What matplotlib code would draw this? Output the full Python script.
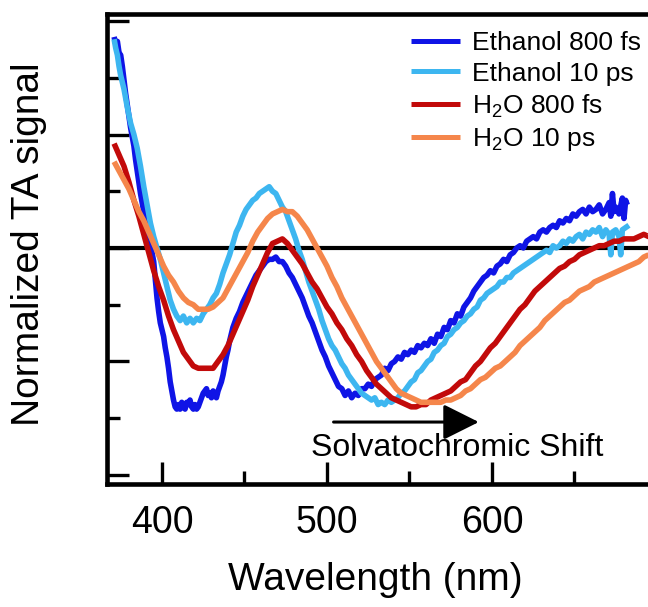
import matplotlib
matplotlib.use("Agg")
import matplotlib.pyplot as plt
from matplotlib.ticker import MultipleLocator, NullFormatter
from matplotlib.patches import ArrowStyle

plt.rcParams['font.family'] = ['Liberation Sans', 'DejaVu Sans']
plt.rcParams['mathtext.fontset'] = 'custom'
plt.rcParams['mathtext.rm'] = 'Liberation Sans'

# ---------------- data ----------------
eth800_wl = [371, 372, 373, 374, 375, 376, 377, 378, 379, 380, 381, 382, 383, 384, 385, 386, 387, 388, 389, 390,
             391, 392, 393, 394, 395, 396, 397, 398, 399, 400, 401, 402, 403, 404, 405, 406, 407, 408, 409, 410,
             411, 412, 413, 414, 415, 416, 417, 418, 419, 420, 421, 422, 423, 424, 425, 426, 427, 428, 429, 430,
             431, 432, 433, 434, 435, 436, 437, 438, 439, 440, 441, 442, 443, 445, 447, 449, 451, 453, 455, 457,
             459, 461, 463, 465, 467, 469, 471, 473, 475, 477, 479, 481, 483, 485, 487, 489, 491, 493, 495, 497,
             499, 501, 503, 505, 507, 509, 511, 513, 515, 517, 519, 521, 523, 525, 527, 529, 531, 533, 535, 537,
             539, 541, 543, 545, 547, 549, 551, 553, 555, 557, 559, 561, 563, 565, 567, 569, 571, 573, 575, 577,
             579, 581, 583, 585, 587, 589, 591, 593, 595, 597, 599, 601, 603, 605, 607, 609, 611, 613, 615, 617,
             619, 621, 623, 625, 627, 629, 631, 633, 635, 637, 639, 641, 643, 645, 647, 649, 651, 653, 655, 657,
             659, 661, 663, 665, 667, 669, 671, 672, 673, 674, 675, 677, 679, 680, 681, 682]
eth800_val = [0.93, 0.90, 0.91, 0.86, 0.85, 0.80, 0.74, 0.68, 0.63, 0.58, 0.53, 0.49, 0.45, 0.39, 0.34, 0.29, 0.24, 0.20, 0.16, 0.12,
              0.09, 0.05, 0.02, -0.02, -0.06, -0.14, -0.22, -0.28, -0.33, -0.36, -0.39, -0.44, -0.48, -0.53, -0.59, -0.63, -0.67, -0.70, -0.71, -0.69,
              -0.71, -0.68, -0.70, -0.71, -0.68, -0.69, -0.67, -0.70, -0.71, -0.69, -0.71, -0.70, -0.68, -0.66, -0.64, -0.63, -0.62, -0.65, -0.64, -0.66,
              -0.63, -0.65, -0.66, -0.63, -0.61, -0.59, -0.56, -0.52, -0.48, -0.45, -0.41, -0.38, -0.35, -0.31, -0.28, -0.24, -0.21, -0.18, -0.15, -0.12,
              -0.10, -0.08, -0.06, -0.05, -0.05, -0.04, -0.06, -0.06, -0.08, -0.11, -0.13, -0.16, -0.19, -0.22, -0.26, -0.30, -0.33, -0.37, -0.41, -0.45,
              -0.48, -0.52, -0.55, -0.58, -0.61, -0.62, -0.65, -0.63, -0.66, -0.64, -0.65, -0.62, -0.62, -0.60, -0.61, -0.58, -0.57, -0.56, -0.53, -0.54,
              -0.51, -0.50, -0.48, -0.49, -0.46, -0.47, -0.45, -0.46, -0.43, -0.44, -0.42, -0.43, -0.40, -0.42, -0.38, -0.39, -0.35, -0.36, -0.32, -0.33,
              -0.29, -0.30, -0.26, -0.24, -0.22, -0.19, -0.17, -0.15, -0.13, -0.12, -0.10, -0.11, -0.08, -0.07, -0.05, -0.06, -0.03, -0.02, 0.00, 0.01,
              0.00, 0.03, 0.04, 0.05, 0.04, 0.07, 0.08, 0.07, 0.09, 0.10, 0.09, 0.12, 0.11, 0.13, 0.12, 0.15, 0.14, 0.16, 0.17, 0.15,
              0.18, 0.16, 0.17, 0.19, 0.15, 0.17, 0.20, 0.14, 0.24, 0.16, 0.18, 0.15, 0.22, 0.13, 0.21, 0.19]

eth10_wl = [371, 372, 373, 374, 375, 377, 379, 381, 383, 385, 387, 389, 391, 393, 395, 397, 399, 401, 403, 405,
            407, 409, 411, 413, 415, 417, 419, 421, 423, 425, 427, 429, 431, 433, 435, 437, 439, 441, 443, 445,
            447, 449, 451, 453, 455, 457, 459, 461, 463, 465, 467, 469, 471, 473, 475, 477, 479, 481, 483, 485,
            487, 489, 491, 493, 495, 497, 499, 501, 503, 505, 507, 509, 511, 513, 515, 517, 519, 521, 523, 525,
            527, 529, 531, 533, 535, 537, 539, 541, 543, 545, 547, 549, 551, 553, 555, 557, 559, 561, 563, 565,
            567, 569, 571, 573, 575, 577, 579, 581, 583, 585, 587, 589, 591, 593, 595, 597, 599, 601, 603, 605,
            607, 609, 611, 613, 615, 617, 619, 621, 623, 625, 627, 629, 631, 633, 635, 637, 639, 641, 643, 645,
            647, 649, 651, 653, 655, 657, 659, 661, 663, 665, 667, 669, 671, 672, 673, 675, 677, 678, 679, 681, 683]
eth10_val = [0.92, 0.88, 0.85, 0.80, 0.76, 0.70, 0.62, 0.55, 0.50, 0.44, 0.36, 0.27, 0.19, 0.11, 0.05, 0.00, -0.05, -0.11, -0.17, -0.23,
             -0.27, -0.30, -0.32, -0.30, -0.33, -0.31, -0.33, -0.31, -0.32, -0.29, -0.27, -0.25, -0.22, -0.20, -0.16, -0.11, -0.07, -0.03, 0.02, 0.07,
             0.10, 0.14, 0.17, 0.19, 0.21, 0.22, 0.24, 0.25, 0.26, 0.27, 0.25, 0.24, 0.21, 0.18, 0.16, 0.12, 0.08, 0.04, -0.01, -0.05,
             -0.10, -0.15, -0.19, -0.23, -0.27, -0.32, -0.36, -0.40, -0.43, -0.45, -0.48, -0.51, -0.53, -0.56, -0.58, -0.60, -0.62, -0.64, -0.65, -0.66,
             -0.67, -0.66, -0.69, -0.68, -0.69, -0.67, -0.68, -0.67, -0.66, -0.64, -0.63, -0.61, -0.59, -0.58, -0.55, -0.54, -0.52, -0.50, -0.49, -0.46,
             -0.45, -0.43, -0.42, -0.39, -0.38, -0.36, -0.35, -0.33, -0.32, -0.30, -0.29, -0.27, -0.26, -0.23, -0.22, -0.20, -0.19, -0.18, -0.17, -0.15,
             -0.15, -0.13, -0.13, -0.11, -0.10, -0.09, -0.08, -0.07, -0.06, -0.05, -0.04, -0.03, -0.02, -0.01, -0.02, 0.01, 0.00, 0.01, 0.03, 0.02,
             0.04, 0.03, 0.05, 0.06, 0.04, 0.07, 0.06, 0.08, 0.07, 0.09, 0.05, 0.08, 0.06, -0.03, 0.07, 0.08, 0.05, -0.03, 0.08, 0.09, 0.10]

h2o800_wl = [371, 374, 377, 380, 383, 386, 389, 392, 395, 398, 401, 404, 407, 410, 413, 416, 419, 422, 425, 428,
             431, 434, 437, 440, 443, 446, 449, 452, 455, 458, 461, 464, 467, 470, 473, 476, 479, 482, 485, 488,
             491, 494, 497, 500, 503, 506, 509, 512, 515, 518, 521, 524, 527, 530, 533, 536, 539, 542, 545, 548,
             551, 554, 557, 560, 563, 566, 569, 572, 575, 578, 581, 584, 587, 590, 593, 596, 599, 602, 605, 608,
             611, 614, 617, 620, 623, 626, 629, 632, 635, 638, 641, 644, 647, 650, 653, 656, 659, 662, 665, 668,
             671, 674, 677, 680, 683, 686, 689, 692, 695, 697]
h2o800_val = [0.46, 0.41, 0.36, 0.29, 0.21, 0.14, 0.06, -0.02, -0.10, -0.17, -0.23, -0.30, -0.36, -0.41, -0.46, -0.49, -0.52, -0.53, -0.53, -0.53,
              -0.53, -0.50, -0.47, -0.43, -0.38, -0.33, -0.28, -0.23, -0.17, -0.12, -0.07, -0.02, 0.02, 0.03, 0.04, 0.02, -0.01, -0.04, -0.07, -0.11,
              -0.15, -0.18, -0.22, -0.26, -0.29, -0.33, -0.36, -0.40, -0.43, -0.47, -0.50, -0.54, -0.57, -0.60, -0.62, -0.64, -0.66, -0.67, -0.68, -0.69,
              -0.70, -0.70, -0.69, -0.69, -0.67, -0.66, -0.65, -0.64, -0.63, -0.61, -0.59, -0.58, -0.55, -0.52, -0.50, -0.47, -0.44, -0.42, -0.39, -0.36,
              -0.33, -0.30, -0.27, -0.25, -0.22, -0.19, -0.17, -0.15, -0.13, -0.11, -0.09, -0.08, -0.06, -0.05, -0.03, -0.02, -0.01, 0.00, 0.01, 0.01,
              0.02, 0.03, 0.03, 0.04, 0.04, 0.04, 0.05, 0.06, 0.05, 0.06]

h2o10_wl = [371, 374, 377, 380, 383, 386, 389, 392, 395, 398, 401, 404, 407, 410, 413, 416, 419, 422, 425, 428,
            431, 434, 437, 440, 443, 446, 449, 452, 455, 458, 461, 464, 467, 470, 473, 476, 479, 482, 485, 488,
            491, 494, 497, 500, 503, 506, 509, 512, 515, 518, 521, 524, 527, 530, 533, 536, 539, 542, 545, 548,
            551, 554, 557, 560, 563, 566, 569, 572, 575, 578, 581, 584, 587, 590, 593, 596, 599, 602, 605, 608,
            611, 614, 617, 620, 623, 626, 629, 632, 635, 638, 641, 644, 647, 650, 653, 656, 659, 662, 665, 668,
            671, 674, 677, 680, 683, 686, 689, 692, 695, 697]
h2o10_val = [0.38, 0.34, 0.30, 0.26, 0.21, 0.16, 0.12, 0.07, 0.02, -0.03, -0.08, -0.12, -0.15, -0.19, -0.22, -0.24, -0.25, -0.27, -0.27, -0.27,
             -0.26, -0.24, -0.22, -0.18, -0.14, -0.10, -0.06, -0.02, 0.03, 0.07, 0.10, 0.13, 0.15, 0.16, 0.17, 0.16, 0.16, 0.14, 0.11, 0.08,
             0.04, 0.00, -0.04, -0.08, -0.13, -0.17, -0.22, -0.26, -0.30, -0.34, -0.38, -0.42, -0.46, -0.50, -0.53, -0.56, -0.59, -0.62, -0.64, -0.65,
             -0.66, -0.67, -0.68, -0.68, -0.68, -0.68, -0.68, -0.67, -0.67, -0.66, -0.65, -0.63, -0.62, -0.60, -0.58, -0.57, -0.55, -0.53, -0.52, -0.50,
             -0.48, -0.46, -0.43, -0.41, -0.39, -0.37, -0.35, -0.32, -0.30, -0.28, -0.26, -0.24, -0.23, -0.21, -0.19, -0.18, -0.17, -0.15, -0.14, -0.13,
             -0.12, -0.11, -0.10, -0.09, -0.08, -0.07, -0.06, -0.04, -0.03, -0.02]

series_labels = ['Ethanol 800 fs', 'Ethanol 10 ps', r'H$_\mathregular{2}$O 800 fs', r'H$_\mathregular{2}$O 10 ps']
series_colors = ['#0f14e6', '#3db6f0', '#c20a0a', '#f5864b']
xtick_major = [400, 500, 600]
arrow_start, arrow_end, arrow_y = 504, 592, -0.767
annot_text = 'Solvatochromic Shift'

# ---------------- figure ----------------
W, H = 648, 607
fig = plt.figure(figsize=(W / 100, H / 100), dpi=100)
ax = fig.add_axes([107 / W, 1 - 484 / H, 550 / W, 470 / H])

series = [(eth800_wl, eth800_val), (eth10_wl, eth10_val), (h2o800_wl, h2o800_val), (h2o10_wl, h2o10_val)]
for (wl, v), lab, col in zip(series, series_labels, series_colors):
    ax.plot(wl, v, color=col, lw=4.0, label=lab, solid_joinstyle='round', solid_capstyle='butt')

ax.axhline(0, color='black', lw=3.0, zorder=1)

ax.set_xlim(366.7, 700)
ax.set_ylim(-1.040, 1.031)

ax.set_xticks(xtick_major)
ax.xaxis.set_minor_locator(MultipleLocator(50))
ax.yaxis.set_major_locator(MultipleLocator(0.5))
ax.yaxis.set_minor_locator(MultipleLocator(0.25))
ax.yaxis.set_major_formatter(NullFormatter())

ax.tick_params(which='both', direction='in', top=False, right=False, width=2.4, color='black')
ax.tick_params(which='major', length=16, labelsize=27, pad=15)
ax.tick_params(which='minor', length=9.5)

for s in ['left', 'bottom', 'top', 'right']:
    ax.spines[s].set_linewidth(3.3)

ax.set_xlabel('Wavelength (nm)', fontsize=28, va='center')
ax.xaxis.set_label_coords(0.487, (484 - 580) / 470)
ax.set_ylabel('Normalized TA signal', fontsize=28, va='center')
ax.yaxis.set_label_coords((29 - 107) / 550, (484 - 244) / 470)

ax.annotate('', xy=(arrow_end, arrow_y), xytext=(arrow_start, arrow_y),
            arrowprops=dict(arrowstyle=ArrowStyle('-|>', head_length=1.1, head_width=0.55),
                            mutation_scale=20, lw=2.2, color='black', shrinkA=0, shrinkB=0))
ax.text(578.8, -0.88, annot_text, fontsize=23, ha='center', va='center')

leg = ax.legend(loc='upper left', bbox_to_anchor=((411 - 107) / 550, (484 - 31) / 470),
                frameon=False, fontsize=19, handlelength=1.86, handletextpad=0.45,
                labelspacing=0.25, borderpad=0, borderaxespad=0)
for line in leg.get_lines():
    line.set_linewidth(3.6)

fig.savefig('out.png', dpi=100)
